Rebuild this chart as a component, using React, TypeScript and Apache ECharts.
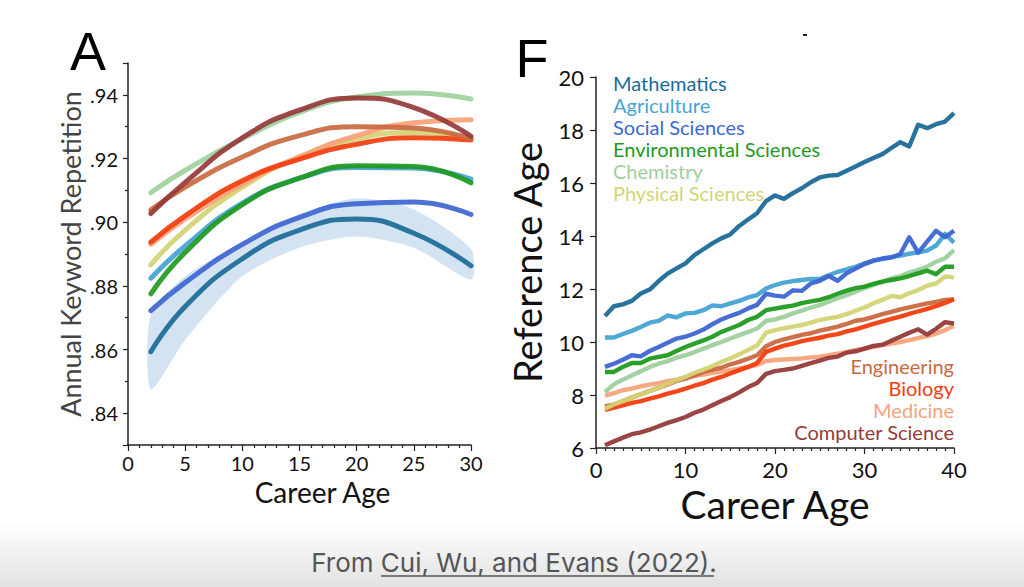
import React, { useEffect, useRef } from "react";
import * as echarts from "echarts";

// ---------- Panel A: annual keyword repetition (quadratic fits) ----------
const A_CAREER = [2, 5, 10, 15, 20, 25, 30];
const A_CHEM = [0.9093, 0.9163, 0.9262, 0.9345, 0.9393, 0.9406, 0.9387];
const A_CS = [0.9027, 0.9125, 0.9265, 0.9352, 0.939, 0.936, 0.927];
const A_ENG = [0.9038, 0.911, 0.9205, 0.9272, 0.93, 0.9296, 0.9262];
const A_MED = [0.893, 0.901, 0.912, 0.9205, 0.9272, 0.9312, 0.9322];
const A_BIO = [0.8937, 0.902, 0.913, 0.9198, 0.9245, 0.9265, 0.9258];
const A_PHYS = [0.8866, 0.8975, 0.911, 0.9205, 0.9262, 0.9282, 0.9265];
const A_AGRI = [0.8824, 0.8925, 0.906, 0.9138, 0.9172, 0.917, 0.9135];
const A_ENV = [0.8775, 0.8905, 0.9055, 0.9138, 0.9177, 0.9175, 0.9124];
const A_SOC = [0.8722, 0.881, 0.893, 0.9015, 0.9058, 0.9063, 0.9024];
const A_MATH = [0.8593, 0.8735, 0.8885, 0.8975, 0.901, 0.8965, 0.8863];
const A_MATH_LO = [0.8475, 0.863, 0.883, 0.892, 0.8955, 0.892, 0.882];
const A_MATH_HI = [0.871, 0.883, 0.8935, 0.9025, 0.9075, 0.904, 0.8915];

// ---------- Panel F: reference age by career age ----------
const F_CAREER = [
  1, 2, 3, 4, 5, 6, 7, 8, 9, 10, 11, 12, 13, 14, 15, 16, 17, 18, 19, 20,
  21, 22, 23, 24, 25, 26, 27, 28, 29, 30, 31, 32, 33, 34, 35, 36, 37, 38, 39, 40,
];
const F_MATH = [
  10.98, 11.35, 11.42, 11.55, 11.83, 11.98, 12.3, 12.58, 12.78, 12.97, 13.28, 13.5, 13.72, 13.91, 14.06, 14.38, 14.62, 14.86, 15.32, 15.53,
  15.4, 15.62, 15.8, 16.03, 16.21, 16.28, 16.3, 16.46, 16.62, 16.79, 16.94, 17.09, 17.32, 17.54, 17.38, 18.2, 18.07, 18.22, 18.32, 18.64,
];
const F_AGRI = [
  10.17, 10.17, 10.3, 10.42, 10.57, 10.73, 10.8, 11.0, 10.93, 11.08, 11.1, 11.2, 11.38, 11.35, 11.46, 11.55, 11.68, 11.77, 12.02, 12.15,
  12.24, 12.3, 12.34, 12.38, 12.38, 12.52, 12.65, 12.74, 12.84, 12.97, 13.07, 13.14, 13.2, 13.26, 13.33, 13.38, 13.45, 13.64, 14.08, 13.75,
];
const F_SOC = [
  9.06, 9.18, 9.33, 9.5, 9.46, 9.66, 9.81, 9.97, 10.13, 10.2, 10.32, 10.47, 10.67, 10.85, 10.98, 11.1, 11.27, 11.4, 11.82, 11.75,
  11.71, 11.95, 11.93, 12.21, 12.31, 12.49, 12.31, 12.59, 12.77, 12.94, 13.07, 13.15, 13.19, 13.32, 13.95, 13.37, 13.79, 14.2, 13.95, 14.2,
];
const F_ENV = [
  8.87, 8.87, 9.06, 9.21, 9.21, 9.37, 9.44, 9.5, 9.66, 9.81, 9.94, 10.06, 10.2, 10.38, 10.51, 10.64, 10.83, 10.95, 11.2, 11.26,
  11.32, 11.37, 11.47, 11.53, 11.59, 11.69, 11.82, 11.94, 12.03, 12.09, 12.19, 12.28, 12.34, 12.4, 12.49, 12.59, 12.69, 12.56, 12.84, 12.84,
];
const F_CHEM = [
  8.11, 8.4, 8.58, 8.74, 8.9, 9.06, 9.18, 9.28, 9.41, 9.5, 9.62, 9.75, 9.88, 10.0, 10.13, 10.26, 10.38, 10.51, 10.8, 10.85,
  10.95, 11.08, 11.18, 11.3, 11.39, 11.52, 11.65, 11.77, 11.9, 12.03, 12.15, 12.28, 12.4, 12.49, 12.62, 12.72, 12.84, 13.03, 13.16, 13.47,
];
const F_PHYS = [
  7.48, 7.64, 7.77, 7.9, 8.03, 8.15, 8.28, 8.43, 8.56, 8.69, 8.84, 8.96, 9.09, 9.25, 9.38, 9.54, 9.7, 9.87, 10.35, 10.45,
  10.52, 10.58, 10.64, 10.73, 10.83, 10.89, 10.95, 11.05, 11.18, 11.3, 11.46, 11.59, 11.74, 11.69, 11.84, 11.96, 12.12, 12.21, 12.47, 12.44,
];
const F_ENG = [
  7.57, 7.64, 7.77, 7.9, 8.03, 8.15, 8.28, 8.4, 8.53, 8.62, 8.74, 8.87, 8.96, 9.03, 9.16, 9.25, 9.37, 9.5, 9.84, 10.0,
  10.1, 10.18, 10.27, 10.33, 10.43, 10.5, 10.58, 10.68, 10.8, 10.85, 10.95, 11.05, 11.14, 11.23, 11.31, 11.38, 11.46, 11.51, 11.59, 11.61,
];
const F_BIO = [
  7.44, 7.52, 7.61, 7.7, 7.77, 7.86, 7.95, 8.05, 8.14, 8.24, 8.35, 8.45, 8.58, 8.68, 8.81, 8.94, 9.06, 9.21, 9.63, 9.75,
  9.86, 9.94, 10.03, 10.1, 10.16, 10.24, 10.3, 10.4, 10.48, 10.58, 10.68, 10.78, 10.87, 10.96, 11.06, 11.16, 11.25, 11.35, 11.47, 11.61,
];
const F_MED = [
  7.98, 8.07, 8.18, 8.24, 8.33, 8.39, 8.45, 8.52, 8.58, 8.66, 8.71, 8.77, 8.84, 8.88, 8.94, 9.0, 9.06, 9.13, 9.28, 9.32,
  9.34, 9.36, 9.38, 9.42, 9.45, 9.5, 9.56, 9.62, 9.7, 9.75, 9.82, 9.88, 9.94, 10.0, 10.07, 10.15, 10.22, 10.32, 10.45, 10.6,
];
const F_CS = [
  6.1, 6.25, 6.39, 6.52, 6.59, 6.69, 6.82, 6.95, 7.05, 7.17, 7.33, 7.45, 7.61, 7.77, 7.92, 8.1, 8.3, 8.45, 8.8, 8.9,
  8.95, 9.0, 9.1, 9.2, 9.3, 9.4, 9.45, 9.6, 9.65, 9.75, 9.85, 9.9, 10.05, 10.2, 10.35, 10.48, 10.28, 10.5, 10.75, 10.7,
];

const FIELDS_TOP = ["Mathematics", "Agriculture", "Social Sciences", "Environmental Sciences", "Chemistry", "Physical Sciences"];
const FIELDS_BOTTOM = ["Engineering", "Biology", "Medicine", "Computer Science"];

const COLOR: Record<string, string> = {
  Mathematics: "#1b6b98",
  Agriculture: "#44a3d4",
  "Social Sciences": "#3d66d2",
  "Environmental Sciences": "#1f9a1f",
  Chemistry: "#9dd09d",
  "Physical Sciences": "#d3d374",
  Engineering: "#c9693f",
  Biology: "#f23d0e",
  Medicine: "#f7a27a",
  "Computer Science": "#963a3a",
};

const A_SERIES: [string, number[]][] = [
  ["Social Sciences", A_SOC],
  ["Mathematics", A_MATH],
  ["Agriculture", A_AGRI],
  ["Environmental Sciences", A_ENV],
  ["Physical Sciences", A_PHYS],
  ["Medicine", A_MED],
  ["Biology", A_BIO],
  ["Engineering", A_ENG],
  ["Chemistry", A_CHEM],
  ["Computer Science", A_CS],
];

const F_SERIES: [string, number[]][] = [
  ["Medicine", F_MED],
  ["Engineering", F_ENG],
  ["Biology", F_BIO],
  ["Computer Science", F_CS],
  ["Physical Sciences", F_PHYS],
  ["Chemistry", F_CHEM],
  ["Environmental Sciences", F_ENV],
  ["Agriculture", F_AGRI],
  ["Social Sciences", F_SOC],
  ["Mathematics", F_MATH],
];

const FONT = "Lato";
const pairs = (xs: number[], ys: number[]) => xs.map((x, i) => [x, ys[i]]);

export default function App() {
  const ref = useRef<HTMLDivElement>(null);
  useEffect(() => {
    if (!ref.current) return;
    const chart = echarts.init(ref.current, null, { renderer: "svg" });

    const axisLine = { show: true, lineStyle: { color: "#222", width: 1.5 } };
    const tickStyle = { lineStyle: { color: "#222", width: 1.2 } };

    const series: any[] = [];
    // confidence band for Mathematics in panel A
    series.push({
      type: "custom", xAxisIndex: 0, yAxisIndex: 0, silent: true, z: 1,
      data: [[A_CAREER[0], A_MATH[0]]],
      renderItem: (_p: any, api: any) => {
        const top = A_CAREER.map((x, i) => api.coord([x, A_MATH_HI[i]]));
        const bot = A_CAREER.map((x, i) => api.coord([x, A_MATH_LO[i]])).reverse();
        return {
          type: "polygon",
          shape: { points: top.concat(bot), smooth: 0.25 },
          style: { fill: "rgba(170,200,228,0.5)" },
        };
      },
    });
    A_SERIES.forEach(([name, vals]) => {
      series.push({
        name, type: "line", xAxisIndex: 0, yAxisIndex: 0, smooth: true, showSymbol: false, z: 2,
        lineStyle: { color: COLOR[name], width: 5, opacity: 0.92, cap: "round" },
        data: pairs(A_CAREER, vals),
      });
    });
    F_SERIES.forEach(([name, vals]) => {
      series.push({
        name, type: "line", xAxisIndex: 1, yAxisIndex: 1, showSymbol: false, z: 2,
        lineStyle: { color: COLOR[name], width: 4.4, opacity: 0.95, join: "round" },
        data: pairs(F_CAREER, vals),
      });
    });

    const graphic: any[] = [
      {
        type: "rect", z: -10, silent: true,
        shape: { x: 0, y: 522, width: 1024, height: 65 },
        style: {
          fill: new echarts.graphic.LinearGradient(0, 0, 0, 1, [
            { offset: 0, color: "#ffffff" },
            { offset: 1, color: "#e2e2e2" },
          ]),
        },
      },
      {
        type: "text", x: 514, y: 562,
        style: {
          text: "From Cui, Wu, and Evans (2022).", fill: "#555", font: "26px Inter",
          textAlign: "center", textVerticalAlign: "middle",
        },
      },
      {
        type: "line", shape: { x1: 381, y1: 576, x2: 714, y2: 576 },
        style: { stroke: "#555", lineWidth: 1.5 },
      },
      {
        type: "text", x: 88, y: 51,
        style: { text: "A", fill: "#000", font: "54px 'Liberation Sans'", textAlign: "center", textVerticalAlign: "middle" },
      },
      {
        type: "text", x: 532, y: 58,
        style: { text: "F", fill: "#000", font: "54px 'Liberation Sans'", textAlign: "center", textVerticalAlign: "middle" },
      },
      {
        type: "rect", shape: { x: 803, y: 34, width: 4, height: 2 }, style: { fill: "#222" },
      },
    ];
    FIELDS_TOP.forEach((name, i) => {
      graphic.push({
        type: "text", x: 613, y: 83 + i * 22,
        style: { text: name, fill: COLOR[name], font: `20px ${FONT}`, textAlign: "left", textVerticalAlign: "middle" },
      });
    });
    FIELDS_BOTTOM.forEach((name, i) => {
      graphic.push({
        type: "text", x: 954, y: 366 + i * 22,
        style: { text: name, fill: COLOR[name], font: `20px ${FONT}`, textAlign: "right", textVerticalAlign: "middle" },
      });
    });

    chart.setOption({
      animation: false,
      backgroundColor: "#fff",
      grid: [
        { left: 128, top: 63, width: 343, height: 382 },
        { left: 596, top: 77, width: 358, height: 371 },
      ],
      xAxis: [
        {
          gridIndex: 0, type: "value", min: 0, max: 30, interval: 5,
          name: "Career Age", nameLocation: "middle", nameGap: 31,
          nameTextStyle: { fontFamily: FONT, fontSize: 28, color: "#111", padding: [0, 0, 0, 46] },
          axisLine, axisTick: { show: true, length: 6, ...tickStyle },
          minorTick: { show: true, splitNumber: 5, length: 3, ...tickStyle },
          splitLine: { show: false },
          axisLabel: { fontFamily: FONT, fontSize: 20, color: "#111", margin: 8 },
        },
        {
          gridIndex: 1, type: "value", min: 0, max: 40, interval: 10,
          name: "Career Age", nameLocation: "middle", nameGap: 34,
          nameTextStyle: { fontFamily: FONT, fontSize: 39, color: "#111" },
          axisLine, axisTick: { show: true, length: 6, ...tickStyle },
          minorTick: { show: true, splitNumber: 10, length: 3, ...tickStyle },
          splitLine: { show: false },
          axisLabel: { fontFamily: FONT, fontSize: 22, color: "#111", margin: 10 },
        },
      ],
      yAxis: [
        {
          gridIndex: 0, type: "value", min: 0.83, max: 0.95, splitNumber: 6,
          name: "Annual Keyword Repetition", nameLocation: "middle", nameGap: 44,
          nameTextStyle: { fontFamily: FONT, fontSize: 27, color: "#444" },
          axisLine, axisTick: { show: true, length: 5, ...tickStyle },
          minorTick: { show: true, splitNumber: 2, length: 3, ...tickStyle },
          splitLine: { show: false },
          axisLabel: {
            fontFamily: FONT, fontSize: 20, color: "#111", margin: 10,
            showMinLabel: false, showMaxLabel: false,
            formatter: (v: number) => v.toFixed(2).replace(/^0/, ""),
          },
        },
        {
          gridIndex: 1, type: "value", min: 6, max: 20, interval: 2,
          name: "Reference Age", nameLocation: "middle", nameGap: 50,
          nameTextStyle: { fontFamily: FONT, fontSize: 38, color: "#111" },
          axisLine, axisTick: { show: true, length: 6, ...tickStyle },
          splitLine: { show: false },
          axisLabel: { fontFamily: FONT, fontSize: 22, color: "#111", margin: 12 },
        },
      ],
      graphic,
      series,
    });
    return () => chart.dispose();
  }, []);

  return (
    <div
      ref={ref}
      style={{ position: "absolute", left: 0, top: 0, width: 1024, height: 587, background: "#fff" }}
    />
  );
}
